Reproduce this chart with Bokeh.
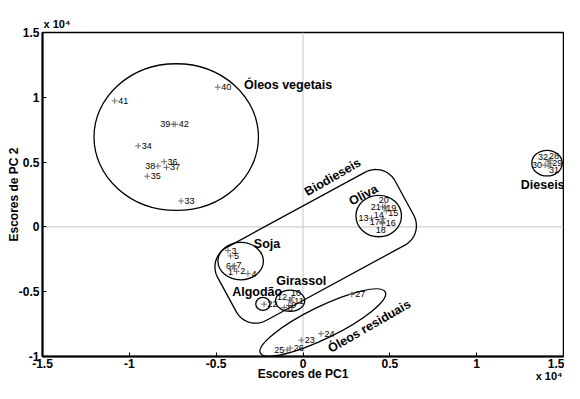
import numpy as np
from bokeh.plotting import figure
from bokeh.models import Range1d, FixedTicker, Span, ColumnDataSource, Title
from bokeh.core.properties import value
from bokeh.embed import file_html
from bokeh.resources import INLINE

# ---------------- data (PCA scores, units of 10^4) ----------------
sample_ids = [str(i) for i in range(1, 43)]
pc1 = [-0.395, -0.382, -0.432, -0.317, -0.418, -0.403, -0.395,
       -0.108, -0.082, -0.063, -0.070, -0.078,
       0.394, 0.462, 0.479, 0.459, 0.454, 0.457, 0.471, 0.473, 0.459,
       -0.224, -0.010, 0.104, -0.091, -0.074, 0.281,
       1.422, 1.426, 1.394, 1.416, 1.411,
       -0.702, -0.949, -0.897, -0.800, -0.786, -0.835, -0.747, -0.491, -1.084, -0.736]
pc2 = [-0.323, -0.343, -0.183, -0.361, -0.224, -0.305, -0.300,
       -0.622, -0.607, -0.546, -0.571, -0.564,
       0.067, 0.063, 0.124, 0.033, 0.040, 0.025, 0.147, 0.158, 0.155,
       -0.596, -0.874, -0.824, -0.950, -0.935, -0.521,
       0.515, 0.490, 0.477, 0.469, 0.507,
       0.200, 0.625, 0.391, 0.503, 0.459, 0.469, 0.792, 1.078, 0.972, 0.792]

x_ticks = [-1.5, -1.0, -0.5, 0.0, 0.5, 1.0, 1.5]
x_tick_labels = ["-1.5", "-1", "-0.5", "0", "0.5", "1", "1.5"]
y_ticks = [-1.0, -0.5, 0.0, 0.5, 1.0, 1.5]
y_tick_labels = ["-1", "-0.5", "0", "0.5", "1", "1.5"]
x_title = "Escores de PC1"
y_title = "Escores de PC 2"
scale_note = "x 10\u2074"

# group ellipses (axis aligned): centre x, centre y, width, height (data units)
grp_names = ["Óleos vegetais", "Soja", "Algodão", "Girassol", "Oliva", "Dieseis"]
grp_cx = [-0.730, -0.359, -0.231, -0.074, 0.436, 1.405]
grp_cy = [0.693, -0.264, -0.594, -0.570, 0.084, 0.492]
grp_w = [0.947, 0.262, 0.082, 0.168, 0.262, 0.175]
grp_h = [1.132, 0.289, 0.101, 0.165, 0.320, 0.198]

# group text labels
lab_text = ["Óleos vegetais", "Soja", "Algodão", "Girassol", "Oliva", "Biodieseis", "Óleos residuais", "Dieseis"]
lab_x = [-0.086, -0.207, -0.264, -0.010, 0.348, 0.171, 0.382, 1.380]
lab_y = [1.092, -0.133, -0.500, -0.419, 0.246, 0.383, -0.767, 0.322]
lab_ang = [0, 0, 0, 0, 28, 30, 30, 0]

# ---------------- label placement (screen px) ----------------
# (align, dx, dy) for each sample label
place = {i: ("left", 3.5, 0) for i in range(1, 43)}
place.update({
    1: ("right", -1.5, 3), 6: ("right", -2, 0), 7: ("left", 2, -0.5),
    9: ("left", 2.5, -1), 10: ("center", 4, -4.5), 12: ("right", -2.5, -2.5),
    13: ("right", -3, 0), 14: ("center", -4.5, -3.5), 15: ("left", 2, 2.5),
    16: ("left", 3, 0.5), 17: ("right", -2, 0.5), 18: ("center", -1.5, 6),
    19: ("left", 1.5, 0), 20: ("center", -1.3, -6), 21: ("right", -2, 0),
    25: ("right", -3, 0), 28: ("center", 4, -4.5), 32: ("center", -5, -4),
    30: ("right", -3, 0), 29: ("left", 1.5, 0), 31: ("center", 5, 3.5),
    38: ("right", -2.7, 0), 39: ("right", -3, 0),
})

W, H = 564, 383
BL, BR, BT, BB = 42, 1, 32, 27
FW, FH = W - BL - BR, H - BT - BB
SX = FW / 3.0
SY = FH / 2.5

FONT = "Liberation Sans"

p = figure(width=W, height=H, output_backend="svg", toolbar_location=None,
           title=scale_note,
           x_range=Range1d(-1.5, 1.5), y_range=Range1d(-1.0, 1.5),
           min_border_left=BL, min_border_right=BR, min_border_top=BT, min_border_bottom=BB)
p.grid.visible = False
p.background_fill_color = "white"
p.border_fill_color = "white"
p.outline_line_color = "black"
p.outline_line_width = 1.5
p.outline_line_alpha = 1.0

p.title.align = "left"
p.title.offset = 1
p.title.standoff = 6
p.title.text_font = FONT
p.title.text_font_size = "11px"
p.title.text_font_style = "bold"
p.title.text_color = "black"

xax = p.xaxis[0]
yax = p.yaxis[0]
for ax, ticks, labels in ((xax, x_ticks, x_tick_labels), (yax, y_ticks, y_tick_labels)):
    ax.ticker = FixedTicker(ticks=ticks)
    ax.major_label_overrides = {t: l for t, l in zip(ticks, labels)}
    ax.axis_line_width = 2
    ax.axis_line_color = "black"
    ax.major_tick_in = 4
    ax.major_tick_out = 0
    ax.major_tick_line_color = "black"
    ax.minor_tick_line_color = None
    ax.major_label_text_font = FONT
    ax.major_label_text_font_style = "bold"
    ax.major_label_text_font_size = "12px"
    ax.major_label_text_color = "black"
    ax.axis_label_text_font = FONT
    ax.axis_label_text_font_style = "bold"
    ax.axis_label_text_font_size = "12px"
    ax.axis_label_text_color = "black"
xax.major_label_standoff = 2
yax.major_label_standoff = 3
xax.axis_label = x_title
xax.axis_label_standoff = -4
yax.axis_label = y_title
yax.axis_label_standoff = -5

# exponent note under the right end of the x axis
note = Title(text=scale_note, align="right", vertical_align="top", standoff=-28, offset=1,
             text_font=FONT, text_font_size="11px", text_font_style="bold",
             text_color="black")
p.add_layout(note, "below")

# zero lines
p.add_layout(Span(location=0, dimension="height", line_color="#cfcfcf", line_width=1.2, level="underlay"))
p.add_layout(Span(location=0, dimension="width", line_color="#cfcfcf", line_width=1.2, level="underlay"))

# group ellipses
p.ellipse(x=grp_cx, y=grp_cy, width=grp_w, height=grp_h, fill_color=None,
          line_color="black", line_width=1.3)

# residual oils ellipse (tilted, in screen units)
res_c = (0.114, -0.738)
p.ellipse(x=[res_c[0]], y=[res_c[1]], width=[139], height=[32], angle=[np.radians(26)],
          width_units="screen", height_units="screen", fill_color=None,
          line_color="black", line_width=1.3)

# biodiesel rounded rectangle
def rounded_rect(cx, cy, half_len, half_wid, r, ang_deg, n=24):
    segs = []
    corners = [(half_len - r, half_wid - r, 0, 90),
               (-(half_len - r), half_wid - r, 90, 180),
               (-(half_len - r), -(half_wid - r), 180, 270),
               (half_len - r, -(half_wid - r), 270, 360)]
    for ux, uy, a0, a1 in corners:
        t = np.radians(np.linspace(a0, a1, n))
        segs.append(np.c_[ux + r * np.cos(t), uy + r * np.sin(t)])
    P = np.vstack(segs + [segs[0][:1]])
    th = np.radians(ang_deg)
    X = P[:, 0] * np.cos(th) - P[:, 1] * np.sin(th)
    Y = P[:, 0] * np.sin(th) + P[:, 1] * np.cos(th)
    return cx + X / SX, cy + Y / SY

bx, by = rounded_rect(0.073, -0.150, 101, 41.5, 22, 28.5)
p.line(bx, by, line_color="black", line_width=1.3)

# sample points
p.scatter(x=pc1, y=pc2, marker="cross", size=6, line_color="#6f6f6f", line_width=1)

# sample labels
for align in ("left", "right", "center"):
    idx = [i for i in range(42) if place[i + 1][0] == align]
    src = ColumnDataSource(dict(
        x=[pc1[i] for i in idx], y=[pc2[i] for i in idx],
        t=[sample_ids[i] for i in idx],
        dx=[place[i + 1][1] for i in idx], dy=[place[i + 1][2] for i in idx]))
    p.text(x="x", y="y", text="t", x_offset="dx", y_offset="dy", source=src,
           text_font=value(FONT), text_font_size="9px", text_color="black",
           text_align=align, text_baseline="middle")

# group labels
p.text(x=lab_x, y=lab_y, text=lab_text, angle=[np.radians(a) for a in lab_ang],
       text_font=value(FONT), text_font_size="12.5px", text_font_style="bold",
       text_color="black", text_align="center", text_baseline="middle")

open("out.html", "w").write(file_html(p, INLINE))
